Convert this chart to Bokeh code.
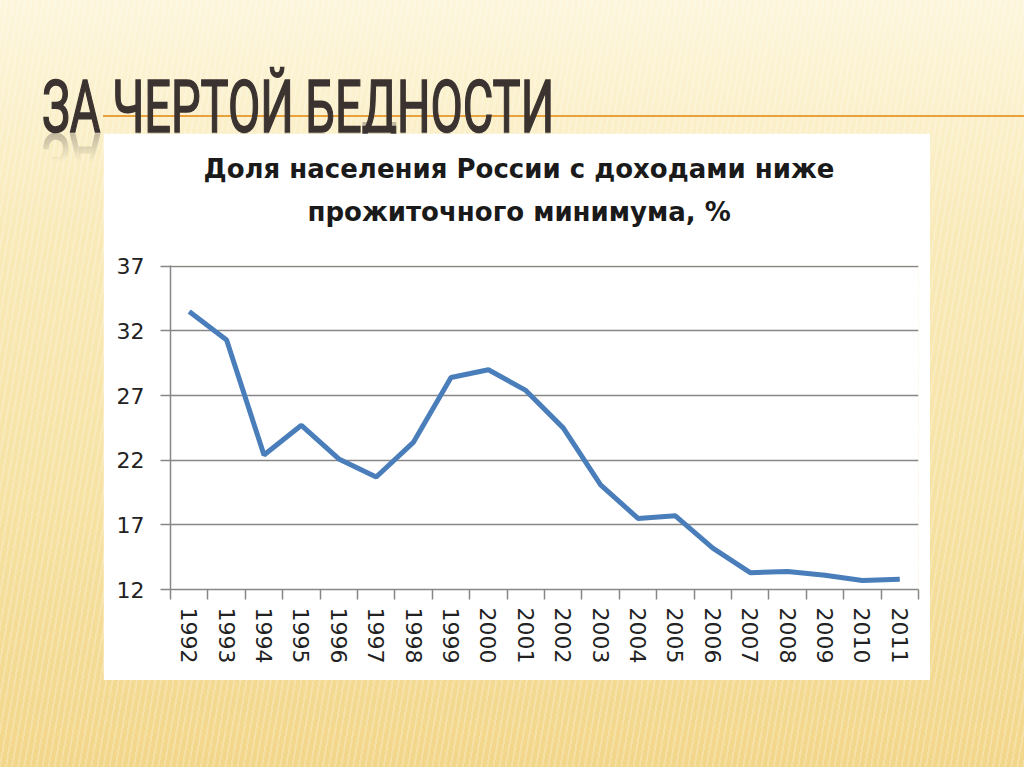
from bokeh.plotting import figure
from bokeh.models import (Range1d, FixedTicker, LinearAxis, Title, Div)
from bokeh.layouts import column
from bokeh.embed import file_html
from bokeh.resources import INLINE

# ---- data ----
years = ["1992", "1993", "1994", "1995", "1996", "1997", "1998", "1999", "2000", "2001",
         "2002", "2003", "2004", "2005", "2006", "2007", "2008", "2009", "2010", "2011"]
share = [33.5, 31.3, 22.4, 24.7, 22.1, 20.7, 23.4, 28.4, 29.0, 27.4,
         24.5, 20.1, 17.5, 17.7, 15.2, 13.3, 13.4, 13.1, 12.7, 12.8]
y_ticks = [12, 17, 22, 27, 32, 37]
slide_title = "ЗА ЧЕРТОЙ БЕДНОСТИ"
chart_title = ["Доля населения России с доходами ниже", "прожиточного минимума, %"]

GRID = "#878787"
LINE = "#4a7ebb"

n = len(years)
centers = [i + 0.5 for i in range(n)]      # category slot centres
bounds = list(range(n + 1))                # category slot boundaries

p = figure(width=827, height=547,
           x_range=Range1d(0, n), y_range=Range1d(y_ticks[0], y_ticks[-1] + 0.06),
           output_backend="svg", toolbar_location=None, x_axis_location=None,
           title=None, min_border_left=67, min_border_right=12,
           min_border_top=132, min_border_bottom=91,
           background_fill_color="white", border_fill_color="white",
           outline_line_color=None)
p.margin = (0, 0, 0, 103)

# titles (later added = further from plot); first a spacer
p.add_layout(Title(text=" ", text_font_size="20px", standoff=6), "above")
p.add_layout(Title(text=chart_title[1], align="left", text_font="DejaVu Sans",
                   text_font_style="bold", text_font_size="26px", text_color="#1a1a1a",
                   standoff=18, offset=137), "above")
p.add_layout(Title(text=chart_title[0], align="left", text_font="DejaVu Sans",
                   text_font_style="bold", text_font_size="26px", text_color="#1a1a1a",
                   standoff=4, offset=33), "above")

# y axis
ya = p.yaxis[0]
ya.ticker = FixedTicker(ticks=y_ticks)
ya.axis_line_color = GRID
ya.axis_line_width = 1.5
ya.major_tick_line_color = GRID
ya.major_tick_line_width = 1.5
ya.major_tick_out = 10
ya.major_tick_in = 0
ya.minor_tick_line_color = None
ya.major_label_text_font = "DejaVu Sans"
ya.major_label_text_font_size = "22px"
ya.major_label_text_color = "#222222"
ya.major_label_standoff = 16

p.ygrid.ticker = FixedTicker(ticks=y_ticks)
p.ygrid.grid_line_color = GRID
p.ygrid.grid_line_width = 1.5
p.xgrid.grid_line_color = None

# x axis: labels at slot centres, boundary tick marks as minor ticks
xa = LinearAxis(ticker=FixedTicker(ticks=centers, minor_ticks=bounds),
                major_label_overrides={c: y for c, y in zip(centers, years)},
                major_tick_out=0, major_tick_in=0, major_tick_line_color=None,
                minor_tick_out=10, minor_tick_in=0,
                minor_tick_line_color=GRID, minor_tick_line_width=1.5,
                axis_line_color=GRID, axis_line_width=1.5,
                major_label_orientation="vertical",
                major_label_text_font="DejaVu Sans",
                major_label_text_font_size="22px",
                major_label_text_color="#222222",
                major_label_standoff=8)
p.add_layout(xa, "below")

p.line(x=centers, y=share, line_color=LINE, line_width=5)

header_html = f"""
<div style="position:relative;width:1024px;height:133px;">
  <div style="position:absolute;left:103px;top:115px;width:921px;height:2px;background:#e9a23b;"></div>
  <div style="position:absolute;left:42px;top:72px;font-family:Roboto;font-size:72px;line-height:1;
       color:#3b3330;-webkit-text-stroke:1.6px #3b3330;white-space:nowrap;transform-origin:0 0;
       transform:scaleX(0.652);">{slide_title}</div>
  <div style="position:absolute;left:42px;top:72px;font-family:Roboto;font-size:72px;line-height:1;
       color:#3b3330;-webkit-text-stroke:1.6px #3b3330;white-space:nowrap;transform-origin:0 61px;
       transform:scale(0.652,-1);opacity:0.3;
       -webkit-mask-image:linear-gradient(to top, rgba(0,0,0,1) 15%, rgba(0,0,0,0) 55%);
       mask-image:linear-gradient(to top, rgba(0,0,0,1) 15%, rgba(0,0,0,0) 55%);">{slide_title}</div>
</div>
"""
header = Div(text=header_html, width=1024, height=133, margin=0)

bg = ("repeating-linear-gradient(100deg, rgba(255,255,255,0.22) 0px, rgba(255,255,255,0.22) 2px, "
      "rgba(255,255,255,0) 2px, rgba(255,255,255,0) 6px), "
      "linear-gradient(180deg, #fdf6dc 0%, #f9eab9 30%, #f6e2a3 65%, #f2d68a 100%)")
root = column(header, p, width=1024, height=767, spacing=0,
              styles={"background": bg})

open("out.html", "w").write(file_html(root, INLINE))
